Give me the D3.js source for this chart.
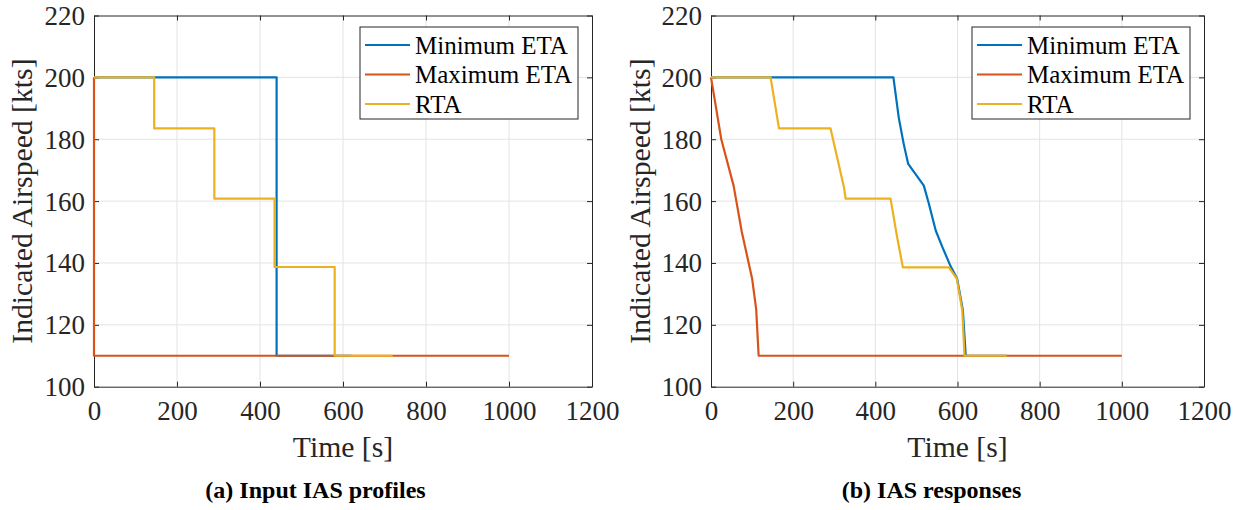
<!DOCTYPE html>
<html><head><meta charset="utf-8">
<script src="https://cdn.jsdelivr.net/npm/d3@7/dist/d3.min.js"></script>
<style>body{margin:0;background:#fff}svg{display:block}</style>
</head><body>
<svg id="c" width="1246" height="510"></svg>
<script>
// ---- data ----
const xTicks = [0, 200, 400, 600, 800, 1000, 1200];
const yTicks = [100, 120, 140, 160, 180, 200, 220];
const seriesNames = ["Minimum ETA", "Maximum ETA", "RTA"];
const seriesColors = ["#0072BD", "#D95319", "#EDB120"];

// (a) Input IAS profiles
const aMinT = [0, 440, 440, 620];
const aMinV = [200, 200, 110, 110];
const aMaxT = [0, 0, 1000];
const aMaxV = [200, 110, 110];
const aRtaT = [0, 145, 145, 290, 290, 435, 435, 580, 580, 720];
const aRtaV = [200, 200, 183.5, 183.5, 160.8, 160.8, 138.7, 138.7, 110, 110];

// (b) IAS responses
const bMinT = [0, 444, 457, 469, 480, 518, 530, 547, 563, 583, 599, 613, 620, 720];
const bMinV = [200, 200, 187, 178.5, 172, 165, 159.3, 150.5, 145.2, 139, 135, 124.7, 110, 110];
const bMaxT = [0, 25, 55, 75, 100, 110, 116, 1000];
const bMaxV = [200, 180, 165, 150, 135, 125, 110, 110];
const bRtaT = [0, 145, 165.5, 291, 323.6, 327.7, 437, 453, 467, 579, 598, 611.6, 617, 720];
const bRtaV = [200, 200, 183.5, 183.5, 164.5, 160.8, 160.8, 148.4, 138.6, 138.6, 135, 124.7, 110, 110];

const captions = ["(a) Input IAS profiles", "(b) IAS responses"];
const xLabel = "Time [s]";
const yLabel = "Indicated Airspeed [kts]";

// ---- layout ----
const panels = [
  {left: 94, right: 592, top: 15.5, bottom: 386.7, ylabX: 32, capX: 315.5,
   series: [[aMinT, aMinV], [aMaxT, aMaxV], [aRtaT, aRtaV]], caption: captions[0]},
  {left: 711, right: 1204, top: 15.5, bottom: 386.7, ylabX: 650, capX: 931.5,
   series: [[bMinT, bMinV], [bMaxT, bMaxV], [bRtaT, bRtaV]], caption: captions[1]}
];

const svg = d3.select("#c");
const font = "Liberation Serif";
const axisCol = "#262626";

panels.forEach(p => {
  const x = d3.scaleLinear().domain([0, 1200]).range([p.left, p.right]);
  const y = d3.scaleLinear().domain([100, 220]).range([p.bottom, p.top]);
  const g = svg.append("g");

  // grid
  g.append("g").selectAll("line").data(xTicks.slice(1, -1)).join("line")
    .attr("x1", d => x(d)).attr("x2", d => x(d)).attr("y1", p.top).attr("y2", p.bottom)
    .attr("stroke", "#e3e3e3").attr("stroke-width", 1);
  g.append("g").selectAll("line").data(yTicks.slice(1, -1)).join("line")
    .attr("y1", d => y(d)).attr("y2", d => y(d)).attr("x1", p.left).attr("x2", p.right)
    .attr("stroke", "#e3e3e3").attr("stroke-width", 1);

  // axes (ticks inside, all four sides)
  const tl = 5;
  const fmt = d3.format("d");
  const ax = [
    g.append("g").attr("transform", `translate(0,${p.bottom})`).call(d3.axisBottom(x).tickValues(xTicks).tickFormat(fmt).tickSizeInner(-tl).tickSizeOuter(0).tickPadding(14)),
    g.append("g").attr("transform", `translate(0,${p.top})`).call(d3.axisTop(x).tickValues(xTicks).tickSizeInner(-tl).tickSizeOuter(0).tickFormat("")),
    g.append("g").attr("transform", `translate(${p.left},0)`).call(d3.axisLeft(y).tickValues(yTicks).tickFormat(fmt).tickSizeInner(-tl).tickSizeOuter(0).tickPadding(9)),
    g.append("g").attr("transform", `translate(${p.right},0)`).call(d3.axisRight(y).tickValues(yTicks).tickSizeInner(-tl).tickSizeOuter(0).tickFormat(""))
  ];
  ax.forEach(a => {
    a.attr("font-family", null).attr("font-size", null);
    a.select(".domain").attr("stroke", axisCol).attr("stroke-width", 1);
    a.selectAll(".tick line").attr("stroke", axisCol);
    a.selectAll("text").style("font-family", font).style("font-size", "27px").attr("fill", axisCol);
  });
  ax[0].selectAll("text").attr("dy", "0.71em");
  ax[2].selectAll("text").attr("dy", "0.33em");

  // lines
  const line = d3.line().x(d => x(d[0])).y(d => y(d[1]));
  p.series.forEach((s, i) => {
    const pts = s[0].map((t, k) => [t, s[1][k]]);
    g.append("path").datum(pts).attr("d", line).attr("fill", "none")
      .attr("stroke", seriesColors[i]).attr("stroke-width", 2.2).attr("stroke-linejoin", "round");
  });

  // labels
  g.append("text").attr("x", (p.left + p.right) / 2).attr("y", 457)
    .attr("text-anchor", "middle").style("font-family", font).style("font-size", "29.7px")
    .attr("fill", axisCol).text(xLabel);
  g.append("text").attr("transform", `translate(${p.ylabX},${(p.top + p.bottom) / 2}) rotate(-90)`)
    .attr("text-anchor", "middle").style("font-family", font).style("font-size", "29.7px")
    .attr("fill", axisCol).text(yLabel);

  // legend
  const lw = 218, lh = 92;
  const lx = p.right - 14 - lw, ly = p.top + 11.5;
  const lg = g.append("g").attr("transform", `translate(${lx},${ly})`);
  lg.append("rect").attr("x", 0).attr("y", 0).attr("width", lw).attr("height", lh)
    .attr("fill", "#fff").attr("stroke", axisCol).attr("stroke-width", 1);
  seriesNames.forEach((n, i) => {
    const ry = 18 + i * 29.5;
    lg.append("line").attr("x1", 5).attr("x2", 50).attr("y1", ry).attr("y2", ry)
      .attr("stroke", seriesColors[i]).attr("stroke-width", 2.2);
    lg.append("text").attr("x", 55).attr("y", ry + 8.5).style("font-family", font)
      .style("font-size", "25px").attr("fill", "#000").text(n);
  });

  // caption
  g.append("text").attr("x", p.capX).attr("y", 498).attr("text-anchor", "middle")
    .style("font-family", font).attr("font-weight", "bold").style("font-size", "24px")
    .attr("fill", "#000").text(p.caption);
});
</script>
</body></html>
